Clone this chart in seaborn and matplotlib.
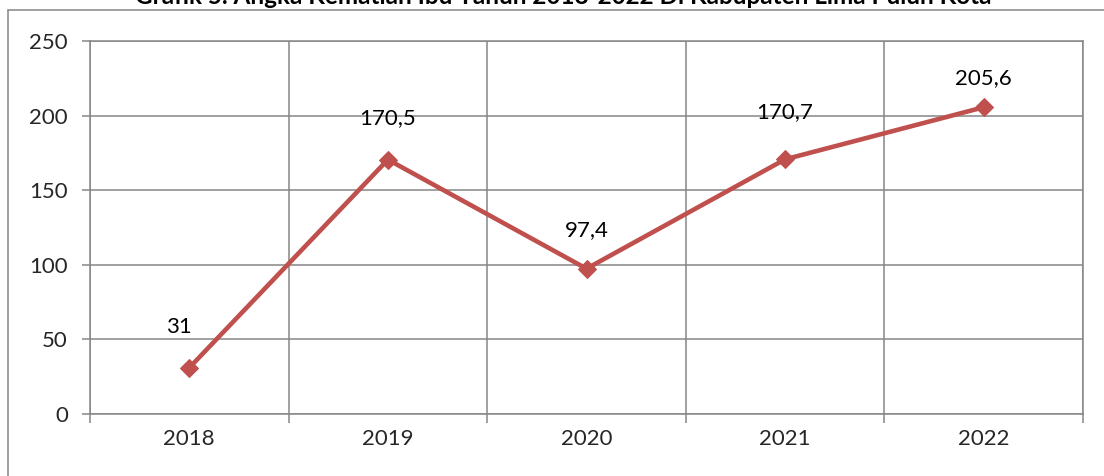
import matplotlib
matplotlib.use('Agg')
import matplotlib.pyplot as plt
import matplotlib.lines as mlines
from matplotlib.ticker import FixedLocator
import seaborn as sns
import pandas as pd
import numpy as np

# ── Data ───────────────────────────────────────────────────────────────────────
years  = ['2018', '2019', '2020', '2021', '2022']
aki    = [31, 170.5, 97.4, 170.7, 205.6]
labels = ['31', '170,5', '97,4', '170,7', '205,6']
yticks = [0, 50, 100, 150, 200, 250]
title  = 'Grafik 5. Angka Kematian Ibu Tahun 2018-2022 Di Kabupaten Lima Puluh Kota'

# label offsets in pixels (dx, dy), as excel placed them
label_off = [(-10, 41), (0, 42), (0, 39), (0, 47), (0, 29)]

LINE_RED  = '#C0504D'
GRID_GREY = '#868686'

sns.set_style('white')
plt.rcParams['font.family'] = ['Lato', 'DejaVu Sans']

df = pd.DataFrame({'year': years, 'aki': aki})

fig = plt.figure(figsize=(11.04, 4.76), dpi=100)
ax = fig.add_axes([90 / 1104, 1 - 414 / 476, (1083 - 90) / 1104, (414 - 41) / 476])

sns.lineplot(data=df, x='year', y='aki', ax=ax, color=LINE_RED, lw=3.3,
             marker='D', markersize=9, markeredgecolor=LINE_RED,
             markerfacecolor=LINE_RED, sort=False)

# data labels
for i, (lab, val) in enumerate(zip(labels, aki)):
    dx, dy = label_off[i]
    ax.annotate(lab, (i, val), xytext=(dx * 0.72, dy * 0.72),
                textcoords='offset points', ha='center', va='center',
                fontsize=16, color='black')

# axes / grid
n = len(years)
ax.set_xlim(-0.5, n - 0.5)
ax.set_ylim(0, 250)
ax.set_yticks(yticks)
ax.set_xticks(range(n))
ax.set_xticklabels(years)
ax.xaxis.set_minor_locator(FixedLocator(np.arange(-0.5, n, 1.0)))
ax.set_xlabel('')
ax.set_ylabel('')

ax.grid(True, axis='y', which='major', color=GRID_GREY, lw=1.1)
ax.grid(True, axis='x', which='minor', color=GRID_GREY, lw=1.1)
ax.grid(False, axis='x', which='major')
ax.set_axisbelow(True)

for s in ax.spines.values():
    s.set_visible(True)
    s.set_color(GRID_GREY)
    s.set_linewidth(1.1)

ax.tick_params(axis='y', which='major', length=6, width=1.1, color=GRID_GREY,
               left=True, labelsize=16, pad=10)
ax.tick_params(axis='x', which='major', length=0, labelsize=16, pad=11)
ax.tick_params(axis='x', which='minor', length=6.5, width=1.1,
               color=GRID_GREY, bottom=True)

# outer chart border (only left and top visible in the crop)
bx, by = 8 / 1104, 1 - 10 / 476
fig.add_artist(mlines.Line2D([bx, bx], [0, by], color=GRID_GREY, lw=1.1))
fig.add_artist(mlines.Line2D([bx, 1], [by, by], color=GRID_GREY, lw=1.1))

# title sits above the border and is cut off at the top edge, as in the source
fig.text(563 / 1104, 1 - 4 / 476, title, ha='center', va='baseline',
         fontsize=17.5, fontweight='bold', color='black')

plt.savefig('out.png', dpi=100)
plt.close(fig)
